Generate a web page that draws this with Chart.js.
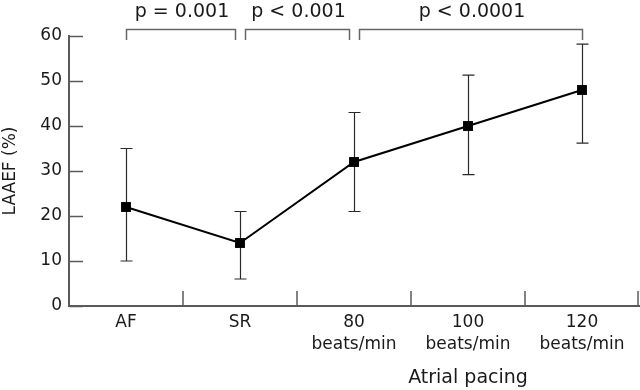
<!DOCTYPE html>
<html>
<head>
<meta charset="utf-8">
<script src="https://cdn.jsdelivr.net/npm/chart.js@4"></script>
<style>
  html, body { margin: 0; padding: 0; background: #fff; }
  #wrap { width: 640px; height: 390px; }
</style>
</head>
<body>
<div id="wrap"><canvas id="c" width="640" height="390"></canvas></div>
<script>
// ---- data ----
const categories = [["AF"], ["SR"], ["80", "beats/min"], ["100", "beats/min"], ["120", "beats/min"]];
const meanLAAEF = [22, 14, 32, 40, 48];
const errLow = [10, 6, 21, 29.2, 36.2];
const errHigh = [35, 21, 43, 51.3, 58.2];
const yTickValues = [0, 10, 20, 30, 40, 50, 60];
const pFrom = [0, 1, 2];
const pTo = [1, 2, 4];
const pLabels = ["p = 0.001", "p < 0.001", "p < 0.0001"];
const yTitle = "LAAEF (%)";
const xTitle = "Atrial pacing";
const xTitleGroup = [2, 3, 4];

const FONT = "'DejaVu Sans', sans-serif";
const AXIS = '#5a5a5a';

const decorations = {
  id: 'decorations',
  beforeDatasetsDraw(chart) {
    const ctx = chart.ctx;
    const xs = chart.scales.x, ys = chart.scales.y;
    const area = chart.chartArea;
    ctx.save();
    // y tick marks (inward)
    ctx.strokeStyle = AXIS;
    ctx.lineWidth = 1.5;
    yTickValues.forEach(v => {
      const y = Math.round(ys.getPixelForValue(v)) + 0.5;
      ctx.beginPath();
      ctx.moveTo(area.left, y);
      ctx.lineTo(area.left + 14, y);
      ctx.stroke();
    });
    // x boundary tick marks (inward)
    for (let i = 0; i < categories.length; i++) {
      const x = Math.min(Math.round(xs.getPixelForValue(i + 0.5)), area.right - 1);
      ctx.beginPath();
      ctx.moveTo(x, area.bottom);
      ctx.lineTo(x, area.bottom - 15);
      ctx.stroke();
    }
    // error bars
    ctx.strokeStyle = '#2a2a2a';
    ctx.lineWidth = 1.2;
    meanLAAEF.forEach((m, i) => {
      const x = Math.round(xs.getPixelForValue(i)) + 0.5;
      const yl = ys.getPixelForValue(errLow[i]);
      const yh = ys.getPixelForValue(errHigh[i]);
      ctx.beginPath();
      ctx.moveTo(x, yl); ctx.lineTo(x, yh);
      ctx.moveTo(x - 6, yl); ctx.lineTo(x + 6, yl);
      ctx.moveTo(x - 6, yh); ctx.lineTo(x + 6, yh);
      ctx.stroke();
    });
    // significance brackets
    const last = categories.length - 1;
    ctx.strokeStyle = '#666';
    ctx.lineWidth = 1.5;
    ctx.fillStyle = '#1a1a1a';
    ctx.font = "19px " + FONT;
    ctx.textAlign = 'center';
    ctx.textBaseline = 'alphabetic';
    const top = area.top - 7, arm = area.top + 4;
    pLabels.forEach((lab, k) => {
      const l = Math.round(xs.getPixelForValue(pFrom[k]) + (pFrom[k] === 0 ? 0 : 5)) + 0.5;
      const r = Math.round(xs.getPixelForValue(pTo[k]) - (pTo[k] === last ? 0 : 5)) + 0.5;
      ctx.beginPath();
      ctx.moveTo(l, arm); ctx.lineTo(l, top + 0.5); ctx.lineTo(r, top + 0.5); ctx.lineTo(r, arm);
      ctx.stroke();
      ctx.fillText(lab, (l + r) / 2 + 1, area.top - 19);
    });
    // x title under the pacing group
    const gx = xTitleGroup.reduce((s, i) => s + xs.getPixelForValue(i), 0) / xTitleGroup.length;
    ctx.font = "19px " + FONT;
    ctx.fillText(xTitle, gx, 383);
    ctx.restore();
  }
};

new Chart(document.getElementById('c'), {
  type: 'line',
  data: {
    labels: categories,
    datasets: [{
      data: meanLAAEF,
      borderColor: '#000',
      borderWidth: 2,
      pointStyle: 'rect',
      pointRadius: 7,
      pointBackgroundColor: '#000',
      pointBorderColor: '#000',
      pointBorderWidth: 0,
      tension: 0,
      clip: false
    }]
  },
  options: {
    responsive: false,
    animation: false,
    devicePixelRatio: 1,
    layout: { autoPadding: false, padding: { left: 0, right: 1, top: 36, bottom: 0 } },
    plugins: { legend: { display: false }, tooltip: { enabled: false } },
    scales: {
      x: {
        type: 'category',
        offset: true,
        grid: { display: false, drawTicks: false },
        border: { display: true, color: AXIS, width: 2 },
        ticks: {
          padding: 5,
          color: '#1a1a1a',
          font: { family: FONT, size: 17, lineHeight: 1.32 },
          maxRotation: 0,
          autoSkip: false
        },
        afterFit(scale) { scale.height = 84; scale.paddingLeft = 0; scale.paddingRight = 0; }
      },
      y: {
        min: 0,
        max: 60,
        afterBuildTicks(scale) { scale.ticks = yTickValues.map(v => ({ value: v })); },
        grid: { display: false, drawTicks: false },
        border: { display: true, color: AXIS, width: 2 },
        ticks: {
          padding: 7,
          color: '#1a1a1a',
          font: { family: FONT, size: 17 }
        },
        title: {
          display: true,
          text: yTitle,
          color: '#1a1a1a',
          font: { family: FONT, size: 17 },
          padding: { top: 0, bottom: 0 }
        },
        afterFit(scale) { scale.width = 69; scale.paddingTop = 0; scale.paddingBottom = 0; }
      }
    }
  },
  plugins: [decorations]
});
</script>
</body>
</html>
